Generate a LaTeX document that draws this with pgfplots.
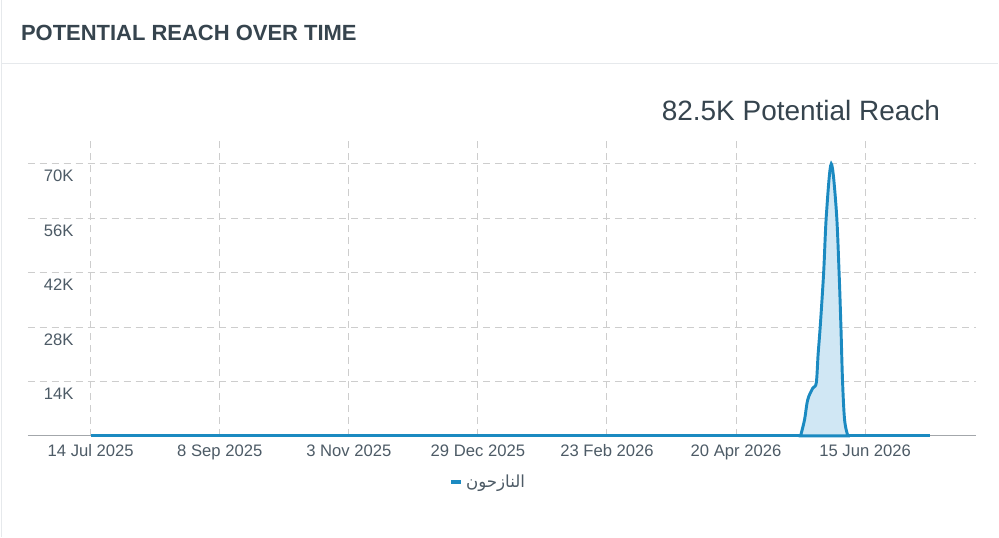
\documentclass[border=0pt]{standalone}
\usepackage{fontspec}
\setmainfont{Liberation Sans}
\newfontfamily\arabicfont[Script=Arabic]{DejaVu Sans}
\usepackage{pgfplots}
\pgfplotsset{compat=1.18}
\TeXXeTstate=1

\definecolor{lineblue}{HTML}{1B8AC1}
\definecolor{fillblue}{HTML}{D0E7F4}
\definecolor{gridcol}{HTML}{CDCDCD}
\definecolor{basecol}{HTML}{A3A7AB}
\definecolor{titlecol}{HTML}{36444E}
\definecolor{tickcol}{HTML}{4D5B66}
\definecolor{sepcol}{HTML}{E6E9EC}

\begin{document}
\begin{tikzpicture}[x=0.75pt,y=0.75pt]
  \fill[white] (0,0) rectangle (999,537);
  \draw[sepcol, line width=0.75pt] (0.5,0) -- (0.5,537);
  \draw[sepcol, line width=1.2pt] (0,474) -- (999,474);
  \node[anchor=west, inner sep=0pt, text=titlecol,
        font=\bfseries\fontsize{16.5}{18}\selectfont] at (20,504) {POTENTIAL REACH OVER TIME};
  \node[anchor=east, inner sep=0pt, text=titlecol,
        font=\fontsize{21}{24}\selectfont] at (941,427) {82.5K Potential Reach};

  \begin{axis}[
      at={(20.25pt,75.75pt)}, anchor=south west,
      scale only axis, width=712.5pt, height=222pt,
      xmin=-27.3, xmax=384.2, ymin=0, ymax=76100,
      axis line style={draw=none}, major tick length=0pt,
      scaled y ticks=false,
      xtick={0,56,112,168,224,280,336},
      xticklabels={14 Jul 2025, 8 Sep 2025, 3 Nov 2025, 29 Dec 2025, 23 Feb 2026, 20 Apr 2026, 15 Jun 2026},
      ytick={14000,28000,42000,56000,70000},
      yticklabels={14K,28K,42K,56K,70K},
      tick label style={font=\fontsize{12.5}{14}\selectfont, text=tickcol, inner sep=0pt},
      xticklabel style={anchor=base, yshift=-15.5pt},
      yticklabel style={anchor=base east, xshift=34.5pt, yshift=-13.5pt},
      xmajorgrids, ymajorgrids,
      grid style={gridcol, line width=0.75pt, dash pattern=on 5.25pt off 3.75pt},
      clip=false,
      legend style={at={(0.4858,-0.1554)}, anchor=center, draw=none, fill=none,
                    font=\fontsize{12.5}{14}\selectfont, text=tickcol},
      legend image code/.code={\draw[lineblue, line width=3pt] (0pt,0pt) -- (7.5pt,0pt);},
    ]
    \draw[basecol, line width=0.75pt] (rel axis cs:0,0) -- (rel axis cs:1,0);
    % flat part of the series (days since 14 Jul 2025)
    \addplot[lineblue, line width=2.2pt] coordinates {
      (0,0) (7,0) (14,0) (21,0) (28,0) (35,0) (42,0) (49,0) (56,0) (63,0)
      (70,0) (77,0) (84,0) (91,0) (98,0) (105,0) (112,0) (119,0) (126,0) (133,0)
      (140,0) (147,0) (154,0) (161,0) (168,0) (175,0) (182,0) (189,0) (196,0) (203,0)
      (210,0) (217,0) (224,0) (231,0) (238,0) (245,0) (252,0) (259,0) (266,0) (273,0)
      (280,0) (287,0) (294,0) (301,0) (308,0) (328.5,0) (336,0) (343,0) (350,0) (357,0)
      (364,0)
    };
    \addlegendentry{\arabicfont\beginR النازحون\endR}
    % the peak
    \addplot[smooth, tension=0.55, draw=lineblue, line width=2.2pt, fill=fillblue, forget plot]
      coordinates {
        (308,0) (309.7,4100) (311.1,9300) (313.3,12300) (314.8,13600)
        (315.6,21000) (316.5,28000) (318,42000) (319.2,57000) (321.3,70000)
        (323.5,58000) (324.7,42000) (325.5,28000) (326.2,14000) (327.1,4000)
        (328.5,0)
      } \closedcycle;
  \end{axis}
\end{tikzpicture}
\end{document}
